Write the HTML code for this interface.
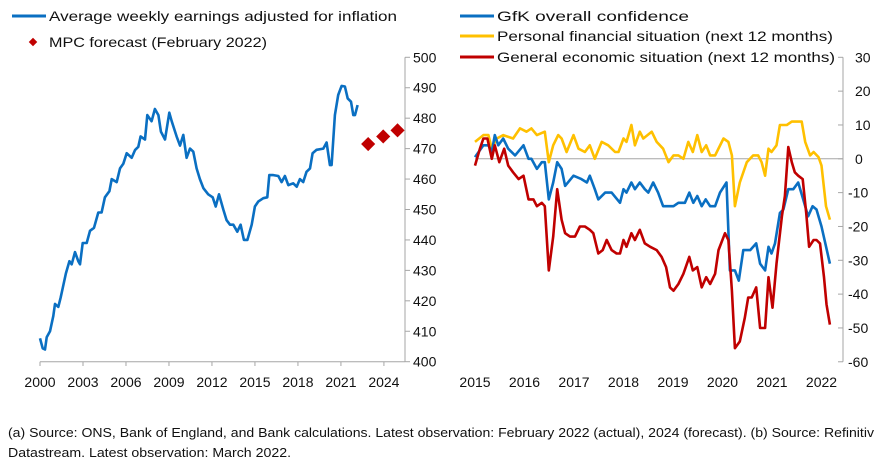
<!DOCTYPE html>
<html><head><meta charset="utf-8"><style>
html,body{margin:0;padding:0;background:#fff;}
svg{display:block;font-family:"Liberation Sans",Arial,sans-serif;}
</style></head><body>
<svg id="c" width="884" height="464" viewBox="0 0 884 464">
<g>
 <line x1="12" y1="16" x2="46" y2="16" stroke="#0a6fc2" stroke-width="3"/>
 <text x="49" y="21" font-size="14" textLength="348" lengthAdjust="spacingAndGlyphs" fill="#111">Average weekly earnings adjusted for inflation</text>
 <rect x="30" y="39" width="6" height="6" fill="#c00000" transform="rotate(45 33 42)"/>
 <text x="49" y="47" font-size="14" textLength="218" lengthAdjust="spacingAndGlyphs" fill="#111">MPC forecast (February 2022)</text>
</g>
<g>
 <line x1="460" y1="16" x2="494" y2="16" stroke="#0a6fc2" stroke-width="3"/>
 <text x="497" y="21" font-size="14" textLength="192" lengthAdjust="spacingAndGlyphs" fill="#111">GfK overall confidence</text>
 <line x1="460" y1="36" x2="494" y2="36" stroke="#ffc000" stroke-width="3"/>
 <text x="497" y="41" font-size="14" textLength="336" lengthAdjust="spacingAndGlyphs" fill="#111">Personal financial situation (next 12 months)</text>
 <line x1="460" y1="57" x2="494" y2="57" stroke="#c00000" stroke-width="3"/>
 <text x="497" y="62" font-size="14" textLength="338" lengthAdjust="spacingAndGlyphs" fill="#111">General economic situation (next 12 months)</text>
</g>
<text x="8" y="437" font-size="13" textLength="866" lengthAdjust="spacingAndGlyphs" fill="#111">(a) Source: ONS, Bank of England, and Bank calculations. Latest observation: February 2022 (actual), 2024 (forecast). (b) Source: Refinitiv</text>
<text x="8" y="457" font-size="13" textLength="283" lengthAdjust="spacingAndGlyphs" fill="#111">Datastream. Latest observation: March 2022.</text>
<g id="left"></g>
<g id="right"></g>
</svg>
<script>
// Left chart data
const earnYears=[2000.00,2000.19,2000.35,2000.47,2000.70,2000.93,2001.05,2001.28,2001.44,2001.58,2001.81,2002.05,2002.21,2002.44,2002.67,2002.79,2002.98,2003.26,2003.49,2003.77,2004.07,2004.30,2004.53,2004.84,2005.00,2005.35,2005.58,2005.81,2006.05,2006.40,2006.63,2006.86,2007.02,2007.33,2007.49,2007.79,2008.02,2008.26,2008.44,2008.72,2009.02,2009.19,2009.53,2009.77,2010.00,2010.23,2010.47,2010.70,2010.93,2011.16,2011.40,2011.74,2012.05,2012.26,2012.49,2012.79,2013.02,2013.26,2013.49,2013.77,2014.00,2014.23,2014.47,2014.77,2015.00,2015.23,2015.58,2015.86,2016.00,2016.28,2016.63,2016.86,2017.09,2017.33,2017.67,2017.91,2018.14,2018.37,2018.60,2018.84,2019.02,2019.30,2019.77,2020.00,2020.23,2020.35,2020.58,2020.81,2021.05,2021.28,2021.47,2021.70,2021.86,2021.98,2022.16];
const earnValues=[407.7,404.4,404,408,410,415,419,418,421,424,429,433,432,436,433,432,439,439,443,444,449,449,454,456,460,459,463.5,465,468.5,467,469.5,470.6,474,473,481,479,483,481,475.6,473,481.8,479,474,471,474.5,467,470,469,463.5,460,457,455,454,451,455,450,446.5,445,445,442.7,445,440,440,445,451,452.6,453.7,454,461.3,461.3,461,459,461,458,458.6,457.5,460,459,462.4,463.5,468.5,469.6,470,472,464.6,464.6,481,487.6,490.6,490.4,486.5,485.4,481,481,484.3];
const fcYears=[2022.9,2023.95,2024.95];
const fcValues=[471.5,474,476];
const leftYTicks=[400,410,420,430,440,450,460,470,480,490,500];
const leftXTicks=[2000,2003,2006,2009,2012,2015,2018,2021,2024];
// Right chart data (years since 2015)
const gfkT=[0,.17,.27,.34,.40,.47,.57,.67,.81,.98,1.08,1.14,1.25,1.35,1.41,1.49,1.58,1.66,1.75,1.82,1.99,2.15,2.26,2.32,2.42,2.49,2.63,2.76,2.93,3.00,3.06,3.16,3.23,3.33,3.43,3.50,3.60,3.70,3.80,3.91,4.01,4.11,4.24,4.33,4.41,4.49,4.58,4.66,4.75,4.85,4.95,5.08,5.15,5.25,5.33,5.42,5.56,5.68,5.76,5.86,5.93,5.99,6.06,6.16,6.23,6.33,6.43,6.53,6.63,6.73,6.82,6.90,7.00,7.17];
const gfkV=[0.5,4,4,2,7,4,6,3,1,4,0,0,-3,-1,-1,-12,-7,-1,-3,-8,-5,-6,-7,-5,-9,-12,-10,-10,-13,-9,-10,-7,-9,-7,-9,-10,-7,-10,-14,-14,-14,-13,-13,-10,-13,-11,-14,-12,-14,-14,-10,-7,-33,-33,-36,-27,-27,-25,-31,-33,-26,-28,-25,-16,-15,-9,-9,-7,-12,-17,-14,-15,-20,-31];
const persT=[0,.17,.27,.34,.44,.57,.77,.91,1.04,1.14,1.25,1.41,1.49,1.58,1.68,1.75,1.85,1.99,2.09,2.22,2.32,2.42,2.56,2.69,2.83,2.90,3.00,3.06,3.16,3.23,3.33,3.40,3.57,3.67,3.80,3.91,4.01,4.11,4.21,4.31,4.40,4.49,4.58,4.67,4.75,4.85,5.02,5.12,5.19,5.25,5.35,5.49,5.62,5.72,5.79,5.86,5.93,5.99,6.09,6.16,6.30,6.40,6.53,6.60,6.67,6.77,6.84,6.94,7.00,7.09,7.17];
const persV=[5,7,7,3,6,7,6,9,8,9,7,8,-1,4,7,6,2,7,3,2,4,0,5,4,2,2,6,5,10,4,8,6,8,5,3,-1,1,1,0,5,2,7,2,4,1,1,6,5,1,-14,-7,-1,1,1,-1,-5,3,2,4,10,10,11,11,11,5,1,2,0.5,-2,-14,-18];
const genT=[0,.10,.17,.25,.34,.40,.49,.59,.67,.77,.88,.98,1.08,1.18,1.25,1.35,1.41,1.49,1.58,1.66,1.75,1.82,1.92,2.02,2.12,2.22,2.32,2.39,2.49,2.58,2.66,2.76,2.86,2.93,3.00,3.06,3.16,3.23,3.33,3.43,3.54,3.67,3.77,3.86,3.94,4.01,4.11,4.21,4.33,4.40,4.49,4.58,4.67,4.75,4.85,4.92,5.05,5.12,5.19,5.25,5.35,5.45,5.52,5.59,5.68,5.76,5.86,5.93,6.01,6.09,6.20,6.26,6.33,6.40,6.46,6.53,6.62,6.69,6.75,6.84,6.90,6.97,7.05,7.10,7.17];
const genV=[-2,3,6,6,0,4,-1,3,-2,-4,-6,-5,-12,-12,-14,-13,-14,-33,-23,-9,-18,-22,-23,-23,-20,-20,-21,-22,-28,-27,-24,-27,-28,-28,-24,-26,-22,-24,-21,-25,-26,-27,-29,-32,-38,-39,-37,-34,-29,-33,-32,-38,-35,-37,-34,-27,-22,-24,-39,-56,-54,-47,-41,-41,-38,-50,-50,-35,-44,-31,-17,-11,3.5,-1,-4,-5,-6,-16,-26,-24,-24,-25,-35,-43,-49];
const rightYTicks=[-60,-50,-40,-30,-20,-10,0,10,20,30];
const rightXTicks=[2015,2016,2017,2018,2019,2020,2021,2022];

const NS='http://www.w3.org/2000/svg';
function mk(parent,tag,attrs,text){const e=document.createElementNS(NS,tag);for(const k in attrs)e.setAttribute(k,attrs[k]);if(text!==undefined)e.textContent=text;parent.appendChild(e);return e;}

// Left chart
const L=document.getElementById('left');
const lx=y=>40+(y-2000)*14.33;
const ly=v=>361.7-(v-400)*3.044;
let e=mk(L,'line',{x1:405,y1:ly(500),x2:405,y2:361.7,stroke:'#a6a6a6','stroke-width':1});


e=mk(L,'line',{x1:40,y1:361.7,x2:405,y2:361.7,stroke:'#a6a6a6','stroke-width':1});


leftYTicks.forEach(t=>{
 mk(L,'line',{x1:405,y1:ly(t),x2:410,y2:ly(t),stroke:'#a6a6a6'});
 e=mk(L,'text',{x:413,y:ly(t)+5,'font-size':14,fill:'#111'},String(t));
 
 
});
leftXTicks.forEach(t=>{
 mk(L,'line',{x1:lx(t),y1:361.7,x2:lx(t),y2:366,stroke:'#a6a6a6'});
 e=mk(L,'text',{x:lx(t),y:387,'font-size':14,'text-anchor':'middle',fill:'#111'},String(t));
 
 
});
e=mk(L,'polyline',{points:earnYears.map((y,i)=>lx(y).toFixed(1)+','+ly(earnValues[i]).toFixed(1)).join(' '),fill:'none',stroke:'#0a6fc2','stroke-width':2.6,'stroke-linejoin':'round'});


fcYears.forEach((y,i)=>{
 const cx=lx(y),cy=ly(fcValues[i]);
 e=mk(L,'rect',{x:cx-5,y:cy-5,width:10,height:10,fill:'#c00000',transform:`rotate(45 ${cx} ${cy})`});
 
 
});

// Right chart
const R=document.getElementById('right');
const rx=t=>475+t*49.5;
const ryr=y=>rx(y-2015);
const ry=v=>158.8-v*3.383;
e=mk(R,'line',{x1:843,y1:ry(30),x2:843,y2:ry(-60),stroke:'#a6a6a6'});


e=mk(R,'line',{x1:475,y1:ry(0),x2:843,y2:ry(0),stroke:'#a6a6a6'});


rightYTicks.forEach(t=>{
 mk(R,'line',{x1:838,y1:ry(t),x2:843,y2:ry(t),stroke:'#a6a6a6'});
 e=mk(R,'text',{x:t<0?848:855,y:ry(t)+5,'font-size':14,fill:'#111'},String(t));
 
 
});
rightXTicks.forEach(t=>{
 e=mk(R,'text',{x:ryr(t),y:387,'font-size':14,'text-anchor':'middle',fill:'#111'},String(t));
 
 
});
function series(T,V,col,name){
 const p=mk(R,'polyline',{points:T.map((t,i)=>rx(t).toFixed(1)+','+ry(V[i]).toFixed(1)).join(' '),fill:'none',stroke:col,'stroke-width':2.6,'stroke-linejoin':'round'});
 return p;
}
e=series(persT,persV,'#ffc000');


e=series(gfkT,gfkV,'#0a6fc2');


e=series(genT,genV,'#c00000');


</script>
</body></html>
